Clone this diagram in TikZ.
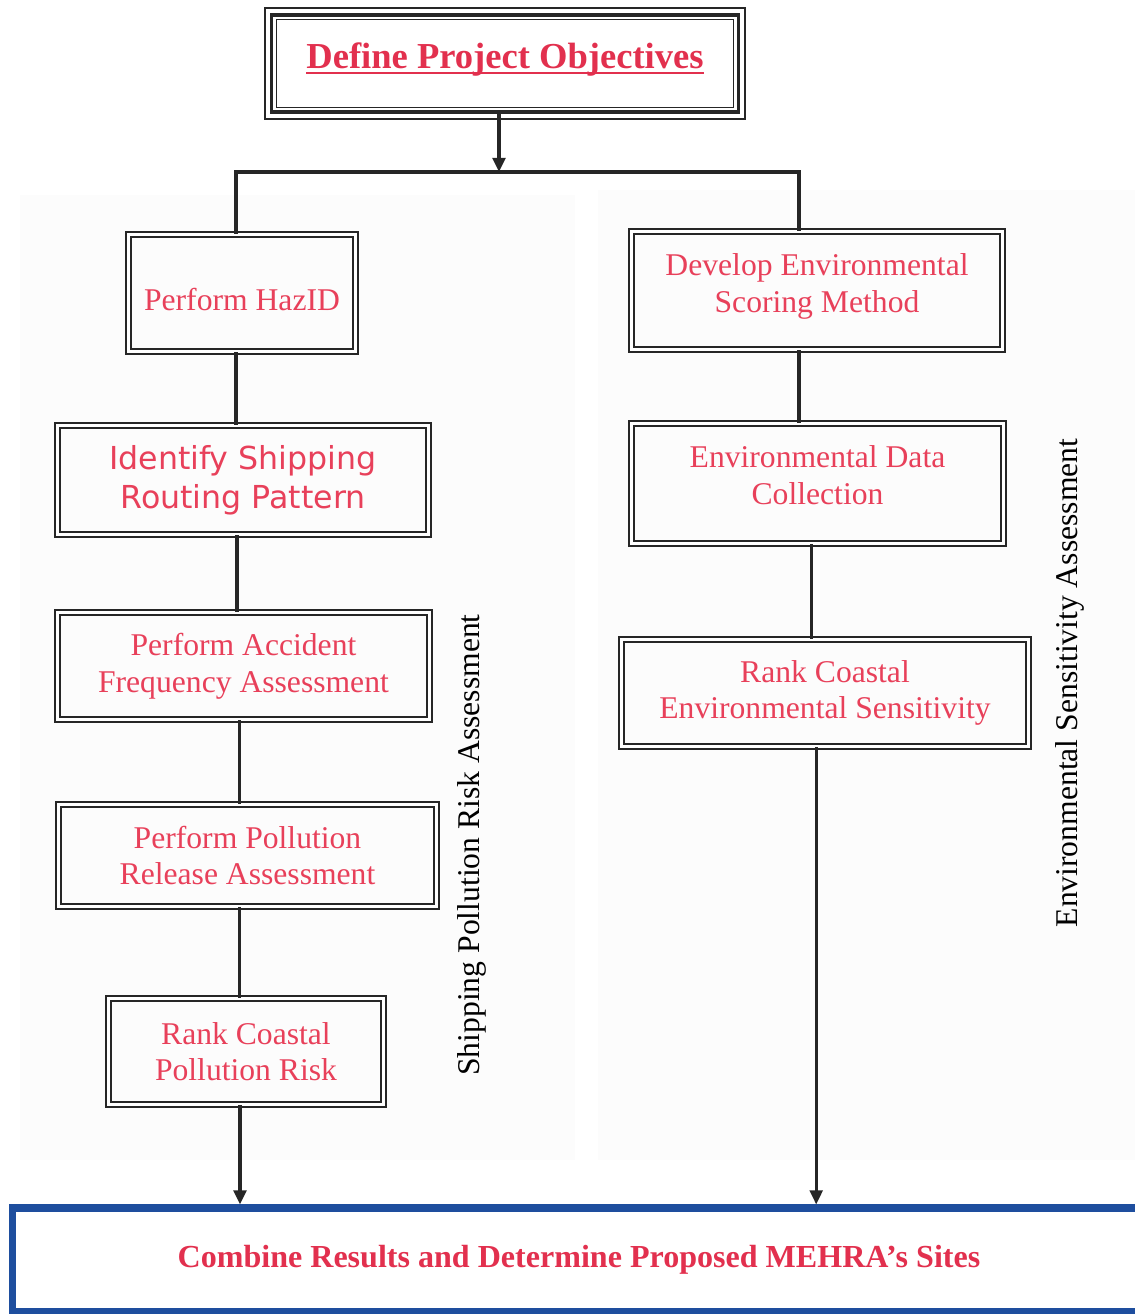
\documentclass[tikz,border=0pt]{standalone}
\usepackage{fontspec}
\setmainfont{Liberation Serif}
\newfontfamily\versans{DejaVu Sans}
\usetikzlibrary{arrows.meta,calc}
\definecolor{txtred}{RGB}{232,64,90}
\definecolor{titlered}{RGB}{226,48,78}
\definecolor{frameblue}{RGB}{30,78,158}
\newcommand{\titleul}[1]{\setbox0\hbox{#1}\rlap{\rule[-4pt]{\wd0}{1.7pt}}\box0}

\tikzset{
	procbox/.style={draw=black!85, line width=1.3pt, double, double distance=1.8pt, text=txtred, align=center, inner sep=0pt, font=\fontsize{22.5}{26}\selectfont},
	link/.style={line width=2.2pt, draw=black!85},
	arrowlink/.style={link, -{Triangle[length=10pt,width=9pt]}},
	sidelabel/.style={rotate=90, font=\fontsize{22.5}{26}\selectfont}
}

\begin{document}
\begin{tikzpicture}[x=0.025cm, y=-0.025cm]
			%%%%% START %%%%%
			\useasboundingbox (0,0) rectangle (1135,1314);
			\clip (0,0) rectangle (1135,1314);
			
			% faint panels
			\fill[black!1] (20,195) rectangle (575,1160);
			\fill[black!1] (598,190) rectangle (1135,1160);
			
			% title
			\node[draw=black!85, line width=2.2pt, minimum width=11.65cm, minimum height=2.425cm, inner sep=0pt, text=titlered, font=\bfseries\fontsize{26}{30}\selectfont, text height=26pt, text depth=18.6pt] (title) at (505,63.5) {\titleul{Define Project Objectives}};
			\draw[line width=1.2pt, black!85] ([shift={(-4pt,4pt)}]title.north west) rectangle ([shift={(4pt,-4pt)}]title.south east);
			\draw[line width=1.1pt, black!85] ([shift={(4.2pt,-4.2pt)}]title.north west) rectangle ([shift={(-4.2pt,4.2pt)}]title.south east);
			
			\coordinate (bus) at (499,172);
			\coordinate (busL) at (236,172);
			\coordinate (busR) at (799,172);
			
			% left column
			\node[procbox, minimum width=5.675cm, minimum height=2.925cm, text height=30pt, text depth=5pt] (hazid) at (242,293) {Perform HazID};
			\node[procbox, minimum width=9.275cm, minimum height=2.725cm, font=\versans\fontsize{22.5}{28}\selectfont] (routing) at (243,480) {Identify Shipping\\Routing Pattern};
			\node[procbox, minimum width=9.3cm, minimum height=2.675cm] (accident) at (243.5,666) {Perform Accident\\Frequency Assessment};
			\node[procbox, minimum width=9.45cm, minimum height=2.55cm] (release) at (247.5,855.5) {Perform Pollution\\Release Assessment};
			\node[procbox, minimum width=6.875cm, minimum height=2.65cm] (pollrisk) at (246,1051.5) {Rank Coastal\\Pollution Risk};
			
			% right column
			\node[procbox, minimum width=9.275cm, minimum height=2.95cm] (scoring) at (817,290.5) {Develop Environmental\\Scoring Method\\[-15pt]};
			\node[procbox, minimum width=9.3cm, minimum height=3cm] (envdata) at (817.5,483.5) {Environmental Data\\Collection\\[-14pt]};
			\node[procbox, minimum width=10.175cm, minimum height=2.675cm] (envrank) at (825,693) {Rank Coastal\\Environmental Sensitivity};
			
			% result
			\node[draw=frameblue, line width=5pt, minimum width=28.3cm, minimum height=2.575cm, inner sep=0pt, text=titlered, font=\bfseries\fontsize{22.8}{26}\selectfont] (final) at (579,1259.5) {Combine Results and Determine Proposed MEHRA’s Sites};
			
			% side labels
			\node[sidelabel] (shiplabel) at (472,845) {Shipping Pollution Risk Assessment};
			\node[sidelabel] (envlabel) at (1070,683) {Environmental Sensitivity Assessment};
			
			% connectors
			\draw[arrowlink] (title.south -| bus) -- (bus);
			\draw[link] (hazid.north -| busL) -- (busL) -- (busR) -- (scoring.north -| busR);
			\draw[link] (hazid.south -| busL) -- (routing.north -| busL);
			\draw[link] ([xshift=-0.15cm]routing.south) -- ([xshift=-0.15cm]routing.south |- accident.north);
			\draw[link] ([xshift=-0.1cm]accident.south) -- ([xshift=-0.1cm]accident.south |- release.north);
			\draw[link] ([xshift=-0.2cm]release.south) -- ([xshift=-0.2cm]release.south |- pollrisk.north);
			\draw[arrowlink] ([xshift=-0.15cm]pollrisk.south) -- ([xshift=-0.15cm]pollrisk.south |- final.north);
			\draw[link] (scoring.south -| busR) -- (envdata.north -| busR);
			\draw[link] ([xshift=-0.14cm]envdata.south) -- ([xshift=-0.14cm]envdata.south |- envrank.north);
			\draw[arrowlink] ([xshift=-0.22cm]envrank.south) -- ([xshift=-0.22cm]envrank.south |- final.north);
			
			%%%%% END %%%%%
\end{tikzpicture}
\end{document}
